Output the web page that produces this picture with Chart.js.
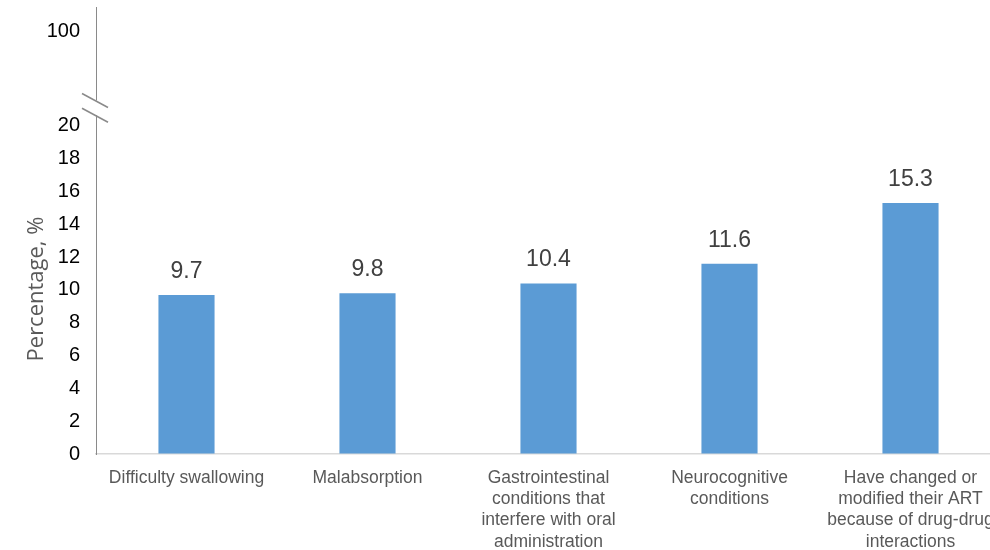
<!DOCTYPE html>
<html>
<head>
<meta charset="utf-8">
<script src="https://cdn.jsdelivr.net/npm/chart.js@4.4.1/dist/chart.umd.min.js"></script>
<style>
  html, body { margin: 0; padding: 0; background: #fff; overflow: hidden; }
  #wrap { width: 1005px; height: 550px; position: relative; }
</style>
</head>
<body>
<div id="wrap"><canvas id="chart"></canvas></div>
<script>
// categories + values
const categories = [
  "Difficulty swallowing",
  "Malabsorption",
  ["Gastrointestinal", "conditions that", "interfere with oral", "administration"],
  ["Neurocognitive", "conditions"],
  ["Have changed or", "modified their ART", "because of drug-drug", "interactions"]
];
const percentages = [9.7, 9.8, 10.4, 11.6, 15.3];

// broken y axis: 0..20 real, then "100" placed above the break
const yTickValues = [0, 2, 4, 6, 8, 10, 12, 14, 16, 18, 20, 25.75];
const yTickLabels = ["0", "2", "4", "6", "8", "10", "12", "14", "16", "18", "20", "100"];
const yMax = 27.25;
const breakRange = [20.65, 21.55];

const axisGray = "#8a8a8a";

const breakPlugin = {
  id: "axisBreak",
  afterDraw(chart) {
    const ctx = chart.ctx;
    const y = chart.scales.y;
    const x0 = chart.chartArea.left;
    const yLo = y.getPixelForValue(breakRange[0]);
    const yHi = y.getPixelForValue(breakRange[1]);
    ctx.save();
    // gap in the axis line
    ctx.fillStyle = "#fff";
    ctx.fillRect(x0 - 3, yHi, 6, yLo - yHi);
    // the two slashes
    ctx.strokeStyle = axisGray;
    ctx.lineWidth = 1.5;
    [yHi, yLo].forEach(yc => {
      ctx.beginPath();
      ctx.moveTo(x0 - 14, yc - 7);
      ctx.lineTo(x0 + 12, yc + 7);
      ctx.stroke();
    });
    // y title, centred lower than the axis middle like the original
    ctx.translate(37, 289);
    ctx.rotate(-Math.PI / 2);
    ctx.fillStyle = "#595959";
    ctx.font = "22px 'Open Sans'";
    ctx.textAlign = "center";
    ctx.textBaseline = "middle";
    ctx.fillText("Percentage, %", 0, 0);
    ctx.restore();
  }
};

const valueLabels = {
  id: "valueLabels",
  afterDatasetsDraw(chart) {
    const ctx = chart.ctx;
    const meta = chart.getDatasetMeta(0);
    ctx.save();
    ctx.fillStyle = "#404040";
    ctx.font = "23px 'Liberation Sans', Arial";
    ctx.textAlign = "center";
    ctx.textBaseline = "alphabetic";
    meta.data.forEach((bar, i) => {
      ctx.fillText(percentages[i].toFixed(1), bar.x, bar.y - 17);
    });
    ctx.restore();
  }
};

new Chart(document.getElementById("chart"), {
  type: "bar",
  data: {
    labels: categories,
    datasets: [{
      data: percentages,
      backgroundColor: "#5b9bd5",
      categoryPercentage: 1,
      barPercentage: 0.31
    }]
  },
  options: {
    responsive: true,
    maintainAspectRatio: false,
    animation: false,
    layout: { padding: { top: 7, right: 4, left: 0, bottom: 0 } },
    plugins: { legend: { display: false }, tooltip: { enabled: false } },
    scales: {
      x: {
        offset: true,
        grid: { display: false },
        border: { display: true, color: "#d9d9d9", width: 1.5 },
        ticks: {
          color: "#595959",
          font: { family: "'Liberation Sans', Arial", size: 17.5, lineHeight: 1.22 },
          padding: 5,
          autoSkip: false,
          maxRotation: 0,
          minRotation: 0
        },
        afterFit(scale) { scale.height = 96; }
      },
      y: {
        min: 0,
        max: yMax,
        grid: { drawOnChartArea: false, drawTicks: false },
        border: { display: true, color: axisGray, width: 1 },
        ticks: {
          color: "#000",
          font: { family: "'Liberation Sans', Arial", size: 20 },
          padding: 16,
          callback: (v) => yTickLabels[yTickValues.indexOf(v)]
        },
        afterBuildTicks(scale) {
          scale.ticks = yTickValues.map(v => ({ value: v }));
        },
        afterFit(scale) {
          scale.width = 96;
          scale.paddingTop = 0;
          scale.paddingBottom = 0;
        }
      }
    }
  },
  plugins: [breakPlugin, valueLabels]
});
</script>
</body>
</html>
